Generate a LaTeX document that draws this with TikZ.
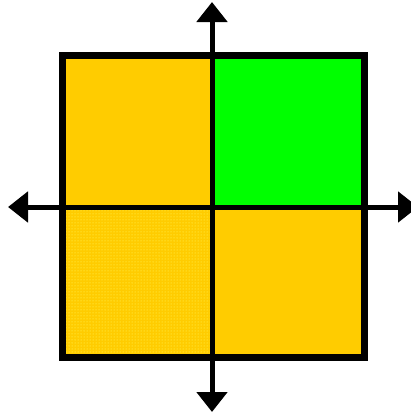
\documentclass[tikz,border=0pt]{standalone}
\usepackage{tikz}
\usetikzlibrary{arrows.meta,patterns}
\definecolor{quadgold}{HTML}{FFCC00}
\definecolor{quadgreen}{HTML}{00FF00}

\begin{document}
\begin{tikzpicture}[
        x=1pt, y=-1pt,
        frame/.style={draw=black, line width=7pt},
        axis/.style={{Triangle[width=30pt,length=20pt]}-{Triangle[width=30pt,length=20pt]}, line width=5pt, draw=black}
        ]
        \useasboundingbox (0,0) rectangle (410,415);

        \coordinate (tl) at (62,55);
        \coordinate (c) at (212,207);
        \coordinate (br) at (364,357);

        \fill[quadgold] (tl) rectangle (c);
        \fill[quadgreen] (212,55) rectangle (364,207);
        \fill[quadgold] (c) rectangle (br);
        \fill[quadgold] (62,207) rectangle (212,357);
        \fill[pattern=dots, pattern color=yellow!60!white] (62,207) rectangle (212,357);

        \draw[frame] (tl) rectangle (br);

        \coordinate (top) at (212,2);
        \coordinate (bottom) at (212,412);
        \coordinate (left) at (8,207);
        \coordinate (right) at (418,207);
        \draw[axis] (bottom) -- (top);
        \draw[axis] (left) -- (right);

    \end{tikzpicture}
\end{document}
